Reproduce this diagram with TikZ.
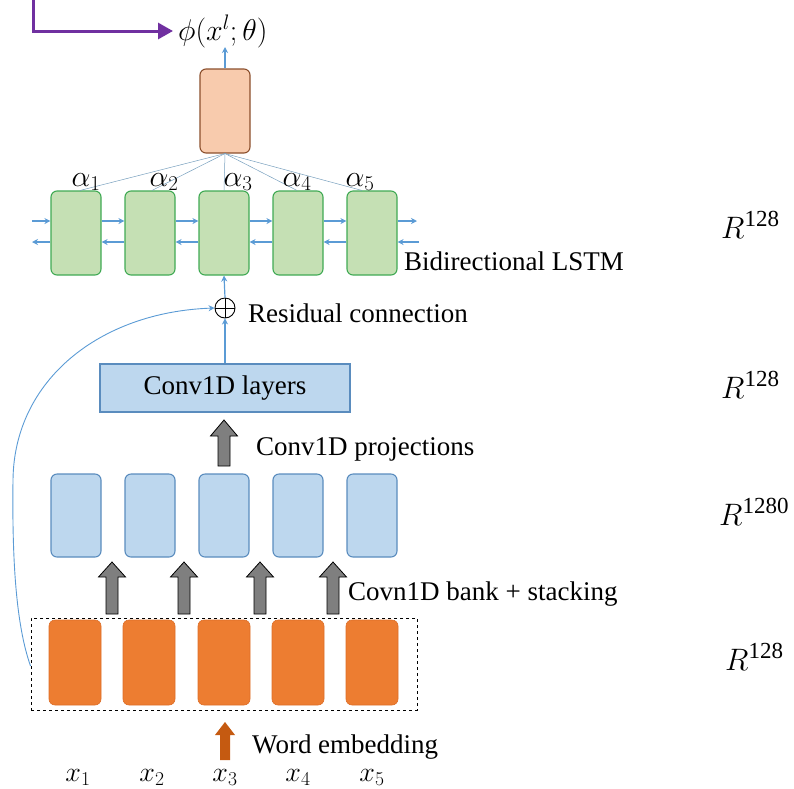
\RequirePackage{fix-cm}
\documentclass[tikz,border=0pt]{standalone}
\usepackage{fontspec}
\setmainfont{Liberation Serif}
\usetikzlibrary{arrows.meta}
\definecolor{lineblue}{RGB}{91,155,213}
\definecolor{peachfill}{RGB}{248,203,173}
\definecolor{peachdraw}{RGB}{140,80,45}
\definecolor{lstmfill}{RGB}{197,224,180}
\definecolor{lstmdraw}{RGB}{64,170,84}
\definecolor{convfill}{RGB}{189,215,238}
\definecolor{convdraw}{RGB}{90,140,190}
\definecolor{embfill}{RGB}{237,125,49}
\definecolor{embdraw}{RGB}{220,110,40}
\definecolor{arrowgray}{RGB}{127,127,127}
\definecolor{arroworange}{RGB}{197,90,17}
\definecolor{purpleline}{RGB}{112,48,160}
\definecolor{attnline}{RGB}{120,160,190}
\tikzset{
  cell/.style={rounded corners=6pt, minimum width=50pt, minimum height=84pt, inner sep=0pt, line width=1.1pt},
  lstmcell/.style={cell, fill=lstmfill, draw=lstmdraw},
  peachcell/.style={cell, fill=peachfill, draw=peachdraw},
  bankcell/.style={cell, fill=convfill, draw=convdraw, minimum height=83pt},
  embcell/.style={cell, fill=embfill, draw=embdraw, line width=0.6pt, minimum width=52pt, minimum height=85pt},
  flow/.style={draw=lineblue, line width=1.2pt, -{Stealth[length=6pt,width=6pt]}},
  attn/.style={draw=attnline, line width=0.5pt},
  fatgray/.style={fill=arrowgray, draw=black, line width=0.8pt, line join=miter},
  fatorange/.style={fill=arroworange, draw=none},
  lbl/.style={inner sep=0pt, font=\fontsize{27}{32}\selectfont},
  mathlbl/.style={inner sep=0pt, font=\fontsize{30}{36}\selectfont},
  xlbl/.style={inner sep=0pt, font=\fontsize{28}{34}\selectfont},
  dimlbl/.style={inner sep=0pt, font=\fontsize{31}{36}\selectfont},
}
% dimension label: italic R with a large upright exponent
\newcommand\dimR[1]{$R^{\mbox{\fontsize{23}{23}\selectfont #1}}$}
% block arrow pointing up: x, bottom y, tip y, shaft width, head width, head length, style
\newcommand\blockup[7]{%
  \pgfmathsetmacro\bs{#4/2}\pgfmathsetmacro\bh{#5/2}\pgfmathsetmacro\bb{#3+#6}%
  \draw[#7] (#1-\bs,#2) -- (#1-\bs,\bb) -- (#1-\bh,\bb) -- (#1,#3)
    -- (#1+\bh,\bb) -- (#1+\bs,\bb) -- (#1+\bs,#2) -- cycle;}
\begin{document}
\begin{tikzpicture}[x=1pt,y=-1pt]
\useasboundingbox (0,0) rectangle (794,788);

% output of the attention layer
\node[peachcell] (out) at (225,111) {};
\node[mathlbl, anchor=base west] (phi) at (178,40) {$\phi(x^{l};\theta)$};
\coordinate (ptop) at (33,0);
\draw[purpleline, line width=3pt, -{Triangle[length=15pt,width=16pt]}]
  (ptop) |- ([xshift=-5pt]phi.west);
\draw[flow] (out.north) -- (225,47);

% bidirectional LSTM cells
\foreach \i/\x in {1/76,2/150,3/224,4/298,5/372}{
  \node[lstmcell] (l\i) at (\x,233) {};
}
\foreach \i/\dx/\lx in {1/4/86,2/2/164,3/0/238,4/-1/297,5/-10/360}{
  \draw[attn] (out.south) -- ([xshift=\dx pt]l\i.north);
  \node[mathlbl, anchor=base] (a\i) at (\lx,186) {$\alpha_{\i}$};
}
\coordinate (fin) at (32,221);
\coordinate (fout) at (417,221);
\coordinate (bin) at (419,242);
\coordinate (bout) at (32,242);
\draw[flow] (fin) -- (fin -| l1.west);
\draw[flow] (l5.east |- fout) -- (fout);
\draw[flow] (bin) -- (bin -| l5.east);
\draw[flow] (l1.west |- bout) -- (bout);
\foreach \a/\b in {1/2,2/3,3/4,4/5}{
  \draw[flow] (l\a.east |- fin) -- (l\b.west |- fin);
  \draw[flow] (l\b.west |- bout) -- (l\a.east |- bout);
}
\node[lbl, anchor=base west] (bilabel) at (404,270) {Bidirectional LSTM};

% residual sum
\node[circle, draw=black, line width=0.9pt, minimum size=20pt, inner sep=0pt] (sum) at (225,308) {};
\draw[black, line width=0.9pt] (sum.north) -- (sum.south) (sum.west) -- (sum.east);
\draw[flow] (sum.north) -- (l3.south);
\node[lbl, anchor=base west] (reslabel) at (248,322) {Residual connection};

% convolution layers
\node[rectangle, fill=convfill, draw=convdraw, line width=1.1pt, minimum width=250pt, minimum height=48pt,
  inner sep=0pt, lbl] (conv) at (225,388) {Conv1D layers};
\draw[flow] (conv.north) -- (sum.south);
\blockup{224}{466}{420}{12}{27}{16}{fatgray}
\node[lbl, anchor=base west] (projlabel) at (256,455) {Conv1D projections};

% convolution bank outputs
\foreach \i/\x in {1/76,2/150,3/224,4/298,5/372}{
  \node[bankcell] (b\i) at (\x,515.5) {};
}
\foreach \x in {112,184,260,333}{
  \blockup{\x}{614}{562}{12}{27}{15}{fatgray}
}
\node[lbl, anchor=base west] (banklabel) at (348,600) {Covn1D bank + stacking};

% word embeddings
\node[draw=black, dashed, line width=0.9pt, minimum width=386pt, minimum height=92pt, inner sep=0pt] (embbox) at (224,664) {};
\foreach \i/\x in {1/75,2/149,3/224,4/298,5/372}{
  \node[embcell] (e\i) at (\x,662.5) {};
}
\blockup{225}{760}{722}{10}{20}{13}{fatorange}
\node[lbl, anchor=base west] (wemblabel) at (252,753) {Word embedding};
\foreach \i/\x in {1/78,2/152,3/225,4/298,5/372}{
  \node[xlbl, anchor=base] (x\i) at (\x,781) {$x_{\i}$};
}

% skip path from the embeddings to the sum
\coordinate (skipstart) at (embbox.west |- 0,666);
\draw[flow, line width=0.9pt] (skipstart) .. controls (16,625) and (12,560) .. (13,480)
  .. controls (14,380) and (100,312) .. (sum.west);

% dimension of each stage
\node[dimlbl, anchor=base west] (d1) at (721,238) {\dimR{128}};
\node[dimlbl, anchor=base west] (d2) at (721,398) {\dimR{128}};
\node[dimlbl, anchor=base west] (d3) at (719,525) {\dimR{1280}};
\node[dimlbl, anchor=base west] (d4) at (725,670) {\dimR{128}};
\end{tikzpicture}
\end{document}
